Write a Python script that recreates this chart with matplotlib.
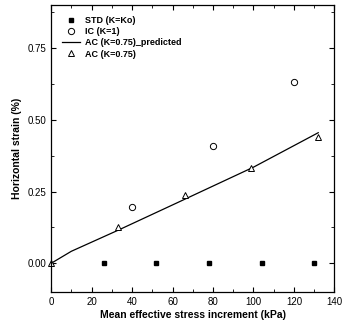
import matplotlib
matplotlib.use('Agg')
import matplotlib.pyplot as plt
from matplotlib.ticker import MultipleLocator

plt.rcParams['font.family'] = ['Liberation Sans', 'DejaVu Sans']

# STD (K=Ko)
std_x = [26, 52, 78, 104, 130]
std_y = [0, 0, 0, 0, 0]

# IC (K=1)
ic_x = [40, 80, 120]
ic_y = [0.195, 0.41, 0.63]

# AC (K=0.75) measured
ac_x = [0, 33, 66, 99, 132]
ac_y = [0.0, 0.125, 0.238, 0.333, 0.44]

# AC (K=0.75) predicted
pred_x = [0, 10, 33, 62, 100, 132]
pred_y = [0.0, 0.042, 0.115, 0.21, 0.335, 0.455]

fig = plt.figure(figsize=(3.43, 3.30), dpi=100)
ax = fig.add_axes([0.149, 0.115, 0.826, 0.87])

ax.plot(std_x, std_y, 's', color='black', markersize=3.2, label='STD (K=Ko)', clip_on=False)
ax.plot(ic_x, ic_y, 'o', mfc='white', mec='black', mew=0.7, markersize=4.5, label='IC (K=1)')
ax.plot(pred_x, pred_y, '-', color='black', lw=0.9, label='AC (K=0.75)_predicted')
ax.plot(ac_x, ac_y, '^', mfc='white', mec='black', mew=0.7, markersize=4.5, label='AC (K=0.75)', clip_on=False)

ax.set_xlim(0, 140)
ax.set_ylim(-0.1, 0.9)
ax.xaxis.set_major_locator(MultipleLocator(20))
ax.xaxis.set_minor_locator(MultipleLocator(10))
ax.yaxis.set_major_locator(MultipleLocator(0.25))
ax.yaxis.set_minor_locator(MultipleLocator(0.125))
ax.tick_params(which='both', direction='in', top=True, right=True, labelsize=7)
ax.tick_params(which='major', length=3.5, width=0.8)
ax.tick_params(which='minor', length=2, width=0.6)
ax.set_yticks([0, 0.25, 0.5, 0.75])
ax.set_yticklabels(['0.00', '0.25', '0.50', '0.75'])

ax.set_xlabel('Mean effective stress increment (kPa)', fontsize=7.5, fontweight='bold', labelpad=2)
ax.set_ylabel('Horizontal strain (%)', fontsize=7.5, fontweight='bold', labelpad=4)

ax.legend(loc='upper left', frameon=False, prop={'size': 6.5, 'weight': 'bold'},
          handlelength=2.0, handletextpad=0.5, labelspacing=0.25,
          borderaxespad=0.8, bbox_to_anchor=(0.0, 1.0))

for s in ax.spines.values():
    s.set_linewidth(0.9)

fig.savefig('out.png', dpi=100)
